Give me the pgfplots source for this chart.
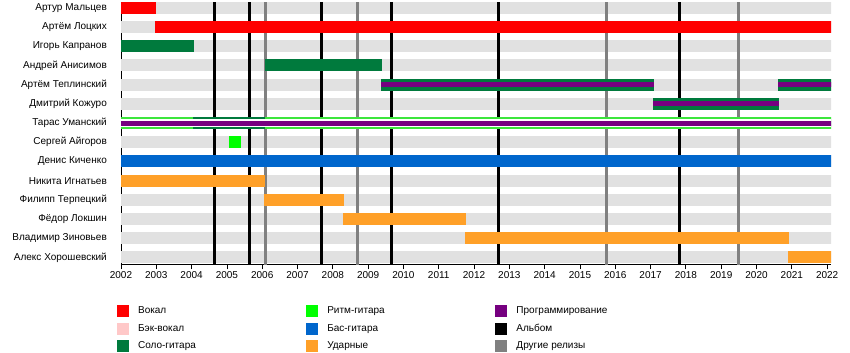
\documentclass[border=0pt]{standalone}
\usepackage{pgfplots}
\pgfplotsset{compat=1.18}
\usepackage{fontspec}
\setmainfont{Liberation Sans}
\definecolor{vocal}{RGB}{255,0,0}
\definecolor{backvocal}{RGB}{255,200,200}
\definecolor{solo}{RGB}{0,122,61}
\definecolor{rhythm}{RGB}{0,255,0}
\definecolor{rhythmline}{RGB}{60,230,60}
\definecolor{bass}{RGB}{0,102,204}
\definecolor{drums}{RGB}{255,160,40}
\definecolor{prog}{RGB}{118,0,128}
\definecolor{bggray}{RGB}{225,225,225}
\definecolor{other}{RGB}{128,128,128}
\newcommand{\lfont}{\fontsize{10bp}{12bp}\selectfont}
\newcommand{\lt}[1]{\makebox[167.8bp][l]{#1}}
\begin{document}
\begin{tikzpicture}
\begin{axis}[
  scale only axis, width=710bp, height=262bp,
  xmin=2002, xmax=2022.11,
  ymin=0.615, ymax=14.26,
  axis x line=bottom, axis y line=left,
  x axis line style={-, line width=0.8bp}, y axis line style={-, line width=0.8bp},
  xtick={2002,2003,...,2022},
  xtick align=outside, major tick length=4.5bp,
  xtick style={black, line width=0.8bp},
  ytick={1,...,14},
  ytick style={draw=none},
  yticklabels={Алекс Хорошевский, Владимир Зиновьев, Фёдор Локшин, Филипп Терпецкий, Никита Игнатьев, Денис Киченко, Сергей Айгоров, Тарас Уманский, Дмитрий Кожуро, Артём Теплинский, Андрей Анисимов, Игорь Капранов, Артём Лоцких, Артур Мальцев},
  yticklabel style={font=\lfont, xshift=-8.4bp},
  xticklabel style={font=\lfont, yshift=1.5bp},
  /pgf/number format/1000 sep={},
  /pgf/number format/assume math mode=true,
  bg/.style={no markers, line width=12bp, bggray, forget plot},
  br/.style={no markers, line width=12bp, forget plot},
  vl/.style={no markers, line width=3bp, forget plot},
  legend columns=3, transpose legend,
  legend cell align=left,
  legend image code/.code={\fill[#1] (0bp,-5.5bp) rectangle (11bp,5.5bp);},
  legend style={at={(axis description cs:0,0)}, anchor=north west,
    xshift=-4.3bp, yshift=-40.3bp, draw=none, fill=none,
    inner sep=0pt, outer sep=0pt, font=\lfont, row sep=6.2bp,
    nodes={inner sep=0pt},
    /tikz/every odd column/.append style={column sep=10bp}},
]
% background bands
\addplot[bg] coordinates {(2002,1) (2022.2,1)};
\addplot[bg] coordinates {(2002,2) (2022.2,2)};
\addplot[bg] coordinates {(2002,3) (2022.2,3)};
\addplot[bg] coordinates {(2002,4) (2022.2,4)};
\addplot[bg] coordinates {(2002,5) (2022.2,5)};
\addplot[bg] coordinates {(2002,6) (2022.2,6)};
\addplot[bg] coordinates {(2002,7) (2022.2,7)};
\addplot[bg] coordinates {(2002,8) (2022.2,8)};
\addplot[bg] coordinates {(2002,9) (2022.2,9)};
\addplot[bg] coordinates {(2002,10) (2022.2,10)};
\addplot[bg] coordinates {(2002,11) (2022.2,11)};
\addplot[bg] coordinates {(2002,12) (2022.2,12)};
\addplot[bg] coordinates {(2002,13) (2022.2,13)};
\addplot[bg] coordinates {(2002,14) (2022.2,14)};
% releases
\addplot[vl, black] coordinates {(2004.64,0) (2004.64,15)};
\addplot[vl, black] coordinates {(2005.63,0) (2005.63,15)};
\addplot[vl, other] coordinates {(2006.09,0) (2006.09,15)};
\addplot[vl, black] coordinates {(2007.69,0) (2007.69,15)};
\addplot[vl, other] coordinates {(2008.69,0) (2008.69,15)};
\addplot[vl, black] coordinates {(2009.67,0) (2009.67,15)};
\addplot[vl, black] coordinates {(2012.69,0) (2012.69,15)};
\addplot[vl, other] coordinates {(2015.74,0) (2015.74,15)};
\addplot[vl, black] coordinates {(2017.81,0) (2017.81,15)};
\addplot[vl, other] coordinates {(2019.49,0) (2019.49,15)};
% members
\addplot[br, vocal] coordinates {(2002,14) (2002.98,14)};
\addplot[br, vocal] coordinates {(2002.96,13) (2022.2,13)};
\addplot[br, solo] coordinates {(2002,12) (2004.07,12)};
\addplot[br, solo] coordinates {(2006.08,11) (2009.38,11)};
\addplot[br, solo] coordinates {(2009.37,10) (2017.10,10)};
\addplot[br, solo] coordinates {(2020.62,10) (2022.2,10)};
\addplot[br, prog, line width=5bp] coordinates {(2009.37,10) (2017.10,10)};
\addplot[br, prog, line width=5bp] coordinates {(2020.62,10) (2022.2,10)};
\addplot[br, solo] coordinates {(2017.08,9) (2020.64,9)};
\addplot[br, prog, line width=5bp] coordinates {(2017.08,9) (2020.64,9)};
\addplot[br, rhythmline, line width=11.5bp] coordinates {(2002,8) (2004.05,8)};
\addplot[br, solo, line width=11.5bp] coordinates {(2004.05,8) (2006.08,8)};
\addplot[br, rhythmline, line width=11.5bp] coordinates {(2006.08,8) (2022.2,8)};
\addplot[br, white, line width=7.5bp] coordinates {(2002,8) (2022.2,8)};
\addplot[br, prog, line width=5bp] coordinates {(2002,8) (2022.2,8)};
\addplot[br, rhythm] coordinates {(2005.06,7) (2005.39,7)};
\addplot[br, bass] coordinates {(2002,6) (2022.2,6)};
\addplot[br, drums] coordinates {(2002,5) (2006.08,5)};
\addplot[br, drums] coordinates {(2006.05,4) (2008.32,4)};
\addplot[br, drums] coordinates {(2008.30,3) (2011.77,3)};
\addplot[br, drums] coordinates {(2011.75,2) (2020.93,2)};
\addplot[br, drums] coordinates {(2020.90,1) (2022.2,1)};
% legend
\addlegendimage{vocal}
\addlegendimage{backvocal}
\addlegendimage{solo}
\addlegendimage{rhythm}
\addlegendimage{bass}
\addlegendimage{drums}
\addlegendimage{prog}
\addlegendimage{black}
\addlegendimage{other}
\legend{\lt{Вокал},\lt{Бэк-вокал},\lt{Соло-гитара},\lt{Ритм-гитара},\lt{Бас-гитара},\lt{Ударные},\lt{Программирование},\lt{Альбом},\lt{Другие релизы}}
\coordinate (bl) at (axis description cs:0,0);
\coordinate (tr) at (axis description cs:1,1);
\end{axis}
\path ([xshift=-121bp,yshift=-88bp]bl) rectangle ([xshift=19bp]tr);
\end{tikzpicture}
\end{document}
